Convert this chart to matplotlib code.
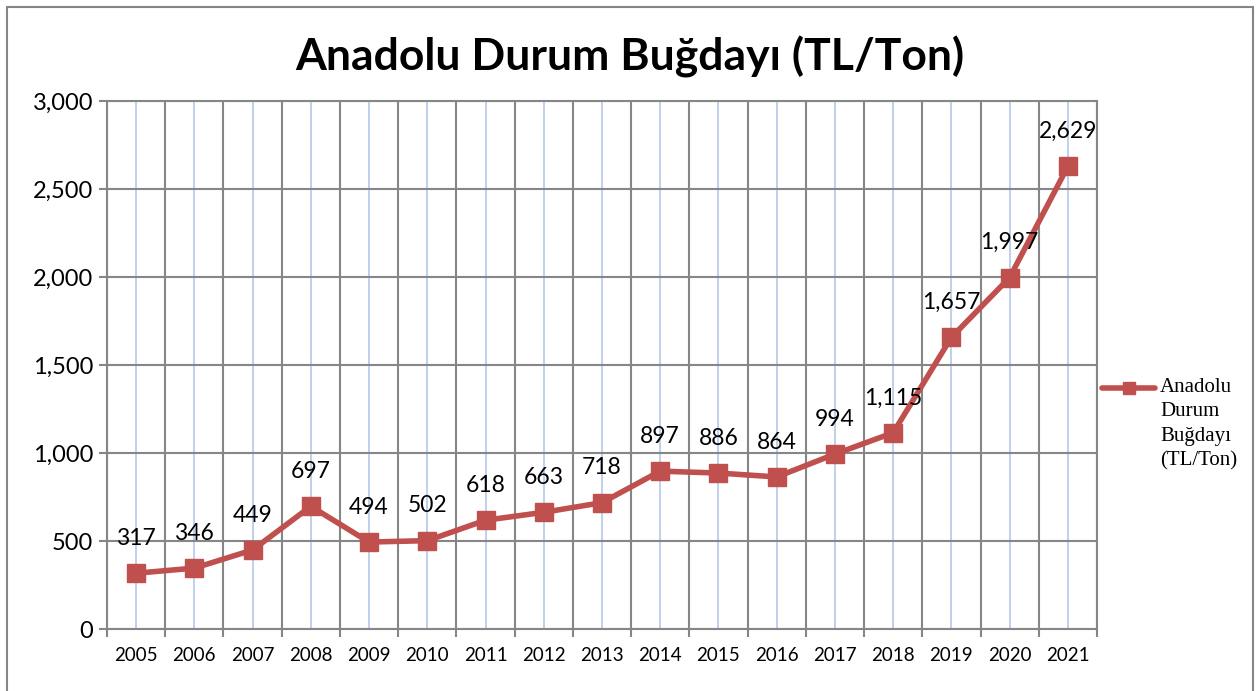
import matplotlib
matplotlib.use("Agg")
import matplotlib.pyplot as plt
from matplotlib.lines import Line2D
from matplotlib.patches import Rectangle
from matplotlib.ticker import FuncFormatter, FixedLocator

years = ["2005", "2006", "2007", "2008", "2009", "2010", "2011", "2012", "2013",
         "2014", "2015", "2016", "2017", "2018", "2019", "2020", "2021"]
prices = [317, 346, 449, 697, 494, 502, 618, 663, 718,
          897, 886, 864, 994, 1115, 1657, 1997, 2629]
series_name = "Anadolu\nDurum\nBuğdayı\n(TL/Ton)"
title = "Anadolu Durum Buğdayı (TL/Ton)"

RED = "#C0504D"
GRAY = "#868686"
BLUE = "#B9CDEB"

plt.rcParams["font.family"] = ["Lato", "DejaVu Sans"]

W, H = 1258, 691
fig = plt.figure(figsize=(W / 100, H / 100), dpi=100)
ax = fig.add_axes([107 / W, 1 - 629 / H, 990 / W, 528 / H])

# outer chart border
fig.patches.append(Rectangle((7 / W, -0.05), 1246 / W, 1 - 7 / H + 0.05,
                             transform=fig.transFigure, fill=False,
                             edgecolor=GRAY, linewidth=1.5))

x = list(range(len(years)))
ax.plot(x, prices, color=RED, linewidth=4, marker="s", markersize=13, zorder=3)

for xi, v in zip(x, prices):
    ax.annotate(f"{v:,}", (xi, v), xytext=(0, 25), textcoords="offset points",
                ha="center", va="center", fontsize=16.5, color="black")

ax.set_xlim(-0.5, len(years) - 0.5)
ax.set_ylim(0, 3000)
ax.set_yticks(range(0, 3001, 500))
ax.yaxis.set_major_formatter(FuncFormatter(lambda v, p: f"{int(v):,}"))

ax.set_xticks(x)
ax.set_xticklabels(years)
ax.xaxis.set_minor_locator(FixedLocator([i - 0.5 for i in range(len(years) + 1)]))

ax.grid(True, which="major", axis="x", color=BLUE, linewidth=1.3, zorder=0)
ax.grid(True, which="minor", axis="x", color=GRAY, linewidth=1.5, zorder=0)
ax.grid(True, which="major", axis="y", color=GRAY, linewidth=1.5, zorder=0)
ax.set_axisbelow(True)

ax.tick_params(axis="x", which="major", length=0, labelsize=13.5, pad=13)
ax.tick_params(axis="x", which="minor", length=6, width=1.5, color=GRAY)
ax.tick_params(axis="y", length=6, width=1.5, color=GRAY, labelsize=17, pad=4)

for sp in ax.spines.values():
    sp.set_color(GRAY)
    sp.set_linewidth(1.5)

fig.text(630 / W, 1 - 57 / H, title, ha="center", va="center",
         fontsize=32, fontweight="bold")

# legend drawn by hand: short line with a small marker, wrapped serif text
fig.lines.append(Line2D([1102 / W, 1155 / W], [1 - 388 / H, 1 - 388 / H],
                        transform=fig.transFigure, color=RED, linewidth=4,
                        solid_capstyle="round"))
fig.lines.append(Line2D([1128.5 / W], [1 - 388 / H], transform=fig.transFigure,
                        color=RED, marker="s", markersize=8, linestyle="none"))
fig.text(1160 / W, 1 - 378 / H, series_name, ha="left", va="top",
         family="Liberation Serif", fontsize=15, linespacing=1.38)

fig.savefig("out.png", dpi=100)
